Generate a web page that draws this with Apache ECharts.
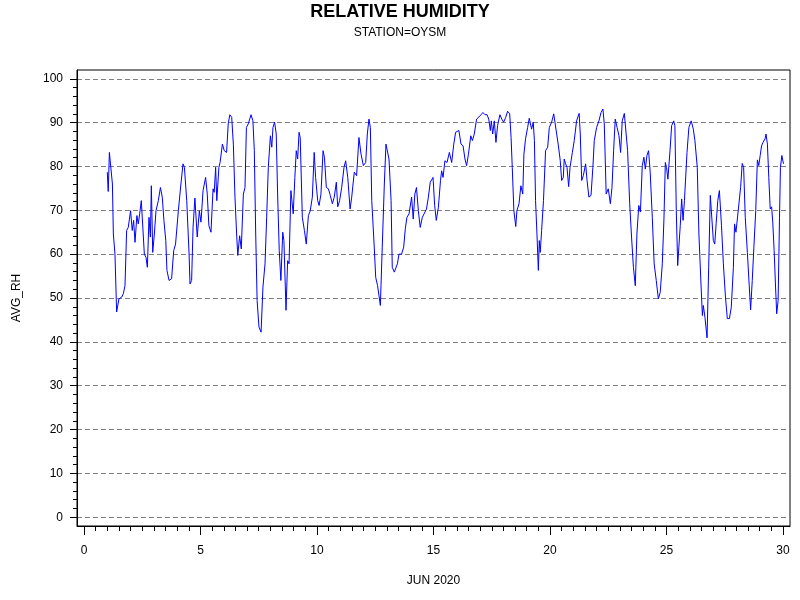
<!DOCTYPE html>
<html>
<head>
<meta charset="utf-8">
<script src="https://cdn.jsdelivr.net/npm/echarts@6/dist/echarts.min.js"></script>
<style>
  html, body { margin: 0; padding: 0; background: #fff; }
  #main { width: 800px; height: 600px; }
</style>
</head>
<body>
<div id="main"></div>
<script>
// hours in June 2020 given as fractional day of month
var days = [
  1.00, 1.04, 1.09, 1.14, 1.22, 1.26, 1.33, 1.40, 1.50, 1.62, 1.69, 1.76, 1.83, 1.90,
  2.00, 2.07, 2.13, 2.19, 2.27, 2.33, 2.39, 2.46, 2.59, 2.66, 2.72, 2.79, 2.85, 2.89, 2.95,
  3.02, 3.09, 3.19, 3.28, 3.36, 3.43, 3.51, 3.56, 3.65, 3.70, 3.76, 3.85, 3.93,
  4.05, 4.16, 4.25, 4.31, 4.41, 4.51, 4.55, 4.62, 4.68, 4.76, 4.86, 4.95,
  5.02, 5.11, 5.22, 5.29, 5.36, 5.45, 5.54, 5.59, 5.65, 5.70, 5.79, 5.84, 5.94,
  6.02, 6.12, 6.19, 6.26, 6.34, 6.41, 6.48, 6.55, 6.60, 6.68, 6.75, 6.84, 6.91, 6.97,
  7.05, 7.17, 7.25, 7.31, 7.37, 7.43, 7.51, 7.60, 7.68, 7.77, 7.84, 7.91,
  8.00, 8.06, 8.11, 8.18, 8.25, 8.31, 8.38, 8.45, 8.53, 8.58, 8.67, 8.74, 8.80, 8.88, 8.98,
  9.05, 9.11, 9.17, 9.23, 9.28, 9.37, 9.46, 9.54, 9.63, 9.71, 9.80, 9.88, 9.94,
  10.03, 10.09, 10.17, 10.26, 10.32, 10.40, 10.49, 10.57, 10.66, 10.74, 10.83, 10.89, 10.97,
  11.06, 11.16, 11.23, 11.32, 11.42, 11.49, 11.60, 11.70, 11.80, 11.89, 11.99,
  12.09, 12.16, 12.23, 12.29, 12.35, 12.45, 12.52, 12.60, 12.72, 12.80, 12.89, 12.96,
  13.03, 13.09, 13.18, 13.23, 13.32, 13.38, 13.45, 13.52, 13.63, 13.72, 13.79, 13.86, 13.95,
  14.06, 14.13, 14.20, 14.27, 14.35, 14.43, 14.52, 14.60, 14.70, 14.78, 14.86, 14.98,
  15.05, 15.12, 15.21, 15.30, 15.35, 15.41, 15.49, 15.58, 15.68, 15.78, 15.87, 15.95,
  16.09, 16.18, 16.27, 16.35, 16.42, 16.50, 16.60, 16.67, 16.75, 16.85, 16.95,
  17.04, 17.12, 17.21, 17.30, 17.37, 17.44, 17.48, 17.54, 17.61, 17.68, 17.75, 17.85, 17.93,
  18.01, 18.10, 18.18, 18.27, 18.33, 18.38, 18.45, 18.53, 18.58, 18.67, 18.75, 18.83, 18.88, 18.95,
  19.04, 19.11, 19.21, 19.28, 19.33, 19.38, 19.44, 19.50, 19.54, 19.58, 19.64, 19.72, 19.81, 19.90, 19.97,
  20.07, 20.16, 20.24, 20.35, 20.44, 20.50, 20.57, 20.61, 20.67, 20.73, 20.80, 20.86, 20.96,
  21.04, 21.14, 21.25, 21.30, 21.36, 21.43, 21.53, 21.59, 21.67, 21.76, 21.84, 21.90,
  22.00, 22.10, 22.19, 22.27, 22.33, 22.41, 22.50, 22.59, 22.66, 22.73, 22.80, 22.88, 22.96,
  23.03, 23.10, 23.19, 23.26, 23.33, 23.42, 23.50, 23.58, 23.66, 23.73, 23.81, 23.88, 23.96,
  24.03, 24.09, 24.16, 24.23, 24.30, 24.39, 24.47, 24.56, 24.65, 24.73, 24.82, 24.89, 24.95,
  25.00, 25.06, 25.15, 25.22, 25.31, 25.36, 25.42, 25.48, 25.53, 25.59, 25.65, 25.71, 25.77, 25.82, 25.88, 25.96,
  26.06, 26.15, 26.22, 26.29, 26.32, 26.39, 26.48, 26.54, 26.58, 26.65, 26.74, 26.81, 26.88, 26.96,
  27.01, 27.07, 27.13, 27.20, 27.27, 27.36, 27.44, 27.53, 27.61, 27.70, 27.78, 27.87, 27.92, 27.98,
  28.04, 28.10, 28.18, 28.25, 28.31, 28.38, 28.47, 28.55, 28.61, 28.68, 28.75, 28.83, 28.90, 28.96,
  29.02, 29.08, 29.14, 29.23, 29.27, 29.33, 29.39, 29.45, 29.51, 29.56, 29.62, 29.68, 29.73, 29.79, 29.85, 29.89, 29.95,
  30.02
];
var avgRh = [
  78.7, 74.3, 83.2, 83.2, 76.0, 64.6, 60.0, 46.8, 49.8, 50.2, 51.0, 52.8, 65.4, 66.1,
  69.9, 65.4, 67.7, 62.7, 68.8, 66.9, 69.2, 72.2, 60.0, 59.3, 57.0, 68.4, 63.9, 75.6, 60.4,
  64.6, 69.9, 72.2, 75.2, 73.0, 67.7, 63.1, 56.3, 54.0, 53.6, 54.4, 60.8, 62.3,
  69.9, 76.0, 80.6, 79.8, 72.2, 60.0, 53.2, 54.0, 66.1, 72.8, 63.9, 69.9,
  67.3, 74.5, 77.5, 73.7, 66.5, 65.0, 74.9, 74.1, 79.8, 72.2, 79.8, 80.9, 85.1,
  83.6, 83.2, 89.7, 91.8, 91.2, 85.1, 73.0, 64.6, 59.7, 64.2, 61.2, 73.7, 75.2, 88.9,
  89.7, 91.8, 90.4, 83.6, 64.6, 49.4, 43.4, 42.2, 52.5, 57.8, 68.4, 79.8,
  87.0, 84.4, 88.9, 90.1, 87.4, 73.7, 60.8, 54.0, 65.0, 63.1, 47.2, 58.5, 57.8, 74.5, 69.2,
  77.5, 83.6, 81.7, 87.8, 86.6, 68.4, 65.4, 62.3, 68.8, 69.9, 73.0, 83.2, 77.5,
  72.2, 71.1, 73.7, 83.6, 82.1, 75.2, 74.9, 73.4, 71.5, 73.0, 76.4, 70.8, 72.2,
  75.2, 79.8, 81.3, 77.5, 70.3, 73.0, 78.7, 77.9, 86.6, 82.8, 80.2,
  80.9, 87.4, 90.8, 88.9, 72.2, 62.3, 54.7, 52.8, 48.3, 61.6, 76.0, 85.1,
  85.1, 81.7, 72.2, 57.0, 55.9, 55.5, 57.8, 60.0, 60.0, 61.6, 65.8, 68.4, 69.2,
  73.0, 68.0, 73.7, 75.2, 69.9, 66.1, 68.4, 68.0, 70.3, 73.0, 76.4, 77.5,
  71.1, 67.7, 70.7, 76.8, 79.0, 77.5, 81.3, 80.9, 83.2, 80.9, 85.1, 87.8,
  88.2, 85.1, 84.7, 81.7, 80.2, 82.8, 87.0, 85.9, 87.4, 90.8, 91.3,
  91.8, 92.3, 91.8, 91.8, 90.8, 88.2, 90.4, 87.4, 90.4, 85.5, 89.3, 91.8, 90.8,
  90.1, 91.2, 92.6, 92.0, 86.6, 79.8, 69.9, 66.3, 69.9, 71.5, 75.6, 73.7, 82.8, 86.3,
  88.9, 91.0, 88.5, 90.1, 85.9, 72.2, 64.6, 56.3, 63.1, 60.4, 65.4, 72.2, 83.6, 84.4, 88.9,
  90.1, 92.0, 91.6, 85.1, 81.3, 76.8, 77.5, 81.7, 80.6, 79.8, 75.4, 79.8, 83.2,
  85.9, 90.4, 92.1, 87.4, 76.8, 77.9, 80.6, 76.8, 73.0, 73.4, 79.8, 85.9,
  88.9, 90.4, 92.3, 93.1, 89.7, 73.7, 74.9, 71.5, 75.2, 83.6, 90.8, 88.9, 87.0,
  83.2, 90.4, 92.1, 92.0, 83.6, 71.5, 63.9, 57.0, 52.8, 64.6, 71.1, 69.6, 80.2,
  82.1, 79.4, 82.5, 83.6, 78.7, 68.4, 57.8, 54.0, 49.8, 51.3, 57.8, 68.0, 80.9,
  79.8, 77.1, 83.6, 89.3, 90.4, 89.3, 69.9, 57.4, 61.6, 66.5, 72.6, 67.7, 72.2, 72.2, 83.2, 88.9,
  90.4, 88.5, 85.9, 86.3, 79.8, 64.6, 53.2, 46.0, 48.3, 45.6, 40.9, 57.0, 73.4, 73.7,
  63.1, 62.3, 66.9, 72.2, 74.5, 66.5, 57.8, 50.2, 45.3, 45.3, 47.9, 57.0, 66.9, 65.0,
  68.0, 68.4, 75.2, 80.7, 79.8, 68.4, 60.4, 52.8, 47.3, 54.0, 61.6, 69.9, 81.5, 80.2,
  82.5, 84.7, 85.5, 86.3, 87.4, 85.1, 77.5, 70.3, 70.8, 67.3, 60.8, 52.5, 46.4, 49.4, 68.4, 79.8, 82.5,
  80.6
];

var xTicks = [0, 5, 10, 15, 20, 25, 30];
var yTicks = [0, 10, 20, 30, 40, 50, 60, 70, 80, 90, 100];

// minor ticks: every half day / every 2 %
var xMinor = [];
for (var i = 0; i <= 60; i++) { if (i % 10) xMinor.push(i / 2); }
var yMinor = [];
for (var j = 0; j <= 50; j++) { if (j % 5) yMinor.push(j * 2); }

var seriesData = days.map(function (d, k) { return [d, avgRh[k]]; });

var font = '"Liberation Sans", Arial, sans-serif';
var chart = echarts.init(document.getElementById('main'), null, { renderer: 'canvas' });

chart.setOption({
  animation: false,
  backgroundColor: '#fff',
  title: {
    text: 'RELATIVE HUMIDITY',
    subtext: 'STATION=OYSM',
    left: 'center',
    top: -2,
    itemGap: 6,
    textStyle: { fontFamily: font, fontSize: 18, fontWeight: 'bold', color: '#000' },
    subtextStyle: { fontFamily: font, fontSize: 12, color: '#000' }
  },
  grid: {
    left: 77, right: 10, top: 70, bottom: 74,
    show: true, borderColor: '#000', borderWidth: 1,
    containLabel: false
  },
  xAxis: [{
    type: 'value',
    min: -0.3, max: 30.3,
    position: 'bottom',
    name: 'JUN 2020',
    nameLocation: 'middle',
    nameGap: 49,
    nameTextStyle: { fontFamily: font, fontSize: 12, color: '#000' },
    axisLine: { show: true, onZero: false, lineStyle: { color: '#000', width: 1 } },
    axisTick: { show: true, customValues: xTicks, length: 9, lineStyle: { color: '#000', width: 1 } },
    axisLabel: { show: true, customValues: xTicks, margin: 19, fontFamily: font, fontSize: 12, color: '#000' },
    splitLine: { show: false }
  }, {
    type: 'value',
    min: -0.3, max: 30.3,
    position: 'bottom',
    axisLine: { show: false, onZero: false },
    axisTick: { show: true, customValues: xMinor, length: 5, lineStyle: { color: '#000', width: 1 } },
    axisLabel: { show: false },
    splitLine: { show: false }
  }],
  yAxis: [{
    type: 'value',
    min: -2, max: 102,
    position: 'left',
    name: 'AVG_RH',
    nameLocation: 'middle',
    nameGap: 54,
    nameTextStyle: { fontFamily: font, fontSize: 12, color: '#000' },
    axisLine: { show: true, onZero: false, lineStyle: { color: '#000', width: 1 } },
    axisTick: { show: true, customValues: yTicks, length: 7, lineStyle: { color: '#000', width: 1 } },
    axisLabel: { show: true, customValues: yTicks, margin: 14, fontFamily: font, fontSize: 12, color: '#000' },
    splitLine: { show: true, lineStyle: { color: '#808080', width: 1, type: [5, 3] } }
  }, {
    type: 'value',
    min: -2, max: 102,
    position: 'left',
    axisLine: { show: false, onZero: false },
    axisTick: { show: true, customValues: yMinor, length: 4, lineStyle: { color: '#000', width: 1 } },
    axisLabel: { show: false },
    splitLine: { show: false }
  }],
  series: [{
    name: 'AVG_RH',
    type: 'line',
    xAxisIndex: 0,
    yAxisIndex: 0,
    data: seriesData,
    showSymbol: false,
    symbol: 'none',
    lineStyle: { color: '#0000ff', width: 1 }
  }]
});
</script>
</body>
</html>
